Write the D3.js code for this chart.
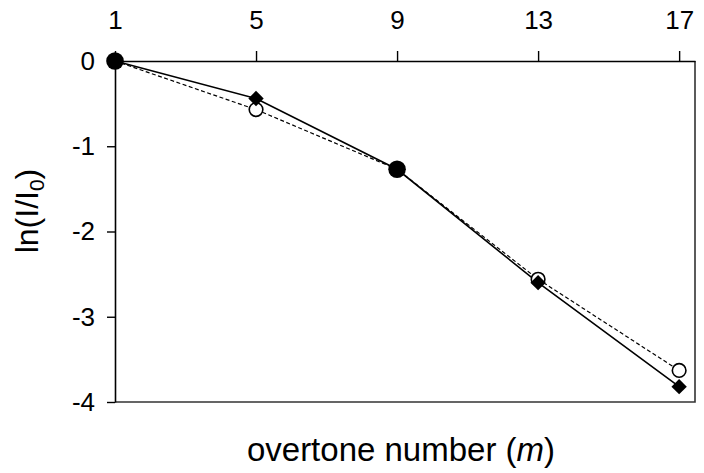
<!DOCTYPE html>
<html>
<head>
<meta charset="utf-8">
<script src="https://cdn.jsdelivr.net/npm/d3@7"></script>
<style>
  body { margin: 0; background: #fff; }
  text { font-family: "Liberation Sans", Arial, sans-serif; fill: #000; }
</style>
</head>
<body>
<div id="chart"></div>
<script>
// overtone numbers
const overtones = [1, 5, 9, 13, 17];
// measured (diamonds, solid line)
const measured = [0, -0.44, -1.27, -2.6, -3.82];
// calculated (circles, dashed line)
const calculated = [0, -0.57, -1.27, -2.56, -3.63];
const circleFilled = [true, false, true, false, false];
const xTicks = [1, 5, 9, 13, 17];
const yTicks = [0, -1, -2, -3, -4];

const width = 704, height = 473;
const margin = {top: 61, right: 9, bottom: 71, left: 115};
const xMax = 17.45;

const svg = d3.select("#chart").append("svg")
    .attr("width", width)
    .attr("height", height);

const x = d3.scaleLinear()
    .domain([1, xMax])
    .range([margin.left, width - margin.right]);

const y = d3.scaleLinear()
    .domain([-4, 0])
    .range([height - margin.bottom, margin.top]);

// frame (right and bottom)
svg.append("path")
    .attr("d", `M${x(1)},${y(-4)}H${x(xMax)}V${y(0)}`)
    .attr("fill", "none")
    .attr("stroke", "#333")
    .attr("stroke-width", 1.6);

const xAxis = svg.append("g")
    .attr("transform", `translate(0,${y(0)})`)
    .call(d3.axisTop(x).tickValues(xTicks).tickSize(10).tickSizeOuter(0).tickPadding(22));

const yAxis = svg.append("g")
    .attr("transform", `translate(${x(1)},0)`)
    .call(d3.axisLeft(y).tickValues(yTicks).tickSize(8).tickSizeOuter(0).tickPadding(12));

[xAxis, yAxis].forEach(g => {
    g.select(".domain").attr("stroke", "#000").attr("stroke-width", 1.6);
    g.selectAll(".tick line").attr("stroke", "#000").attr("stroke-width", 1.4);
    g.selectAll(".tick text")
        .attr("font-size", 26)
        .style("font-size", "26px")
        .style("font-family", "'Liberation Sans', Arial, sans-serif")
        .attr("fill", "#000");
});
yAxis.selectAll(".tick text").text(d => d < 0 ? "-" + Math.abs(d) : d);

const lineGen = d3.line()
    .x(d => x(d[0]))
    .y(d => y(d[1]));

const calcPts = overtones.map((m, i) => [m, calculated[i]]);
const measPts = overtones.map((m, i) => [m, measured[i]]);

svg.append("path")
    .datum(calcPts)
    .attr("d", lineGen)
    .attr("fill", "none")
    .attr("stroke", "#000")
    .attr("stroke-width", 1.2)
    .attr("stroke-dasharray", "4,2.5");

svg.append("path")
    .datum(measPts)
    .attr("d", lineGen)
    .attr("fill", "none")
    .attr("stroke", "#000")
    .attr("stroke-width", 1.6);

svg.selectAll("circle.calc")
    .data(calcPts)
    .enter()
    .append("circle")
    .attr("class", "calc")
    .attr("cx", d => x(d[0]))
    .attr("cy", d => y(d[1]))
    .attr("r", 6.8)
    .attr("fill", "#fff")
    .attr("stroke", "#000")
    .attr("stroke-width", 1.6);

svg.selectAll("path.meas")
    .data(measPts)
    .enter()
    .append("path")
    .attr("class", "meas")
    .attr("d", d3.symbol().type(d3.symbolDiamond2).size(150))
    .attr("transform", d => `translate(${x(d[0])},${y(d[1])})`)
    .attr("fill", "#000");

svg.selectAll("circle.filled")
    .data(calcPts.filter((d, i) => circleFilled[i]))
    .enter()
    .append("circle")
    .attr("class", "filled")
    .attr("cx", d => x(d[0]))
    .attr("cy", d => y(d[1]))
    .attr("r", 8.8)
    .attr("fill", "#000");

// axis titles
svg.append("text")
    .attr("x", 401)
    .attr("y", 461)
    .attr("text-anchor", "middle")
    .style("font-size", "33px")
    .html('overtone number (<tspan font-style="italic">m</tspan>)');

svg.append("text")
    .attr("transform", `translate(38,${211}) rotate(-90)`)
    .attr("text-anchor", "middle")
    .style("font-size", "32px")
    .html('ln(I/I<tspan baseline-shift="-30%" font-size="21px">0</tspan>)');
</script>
</body>
</html>
